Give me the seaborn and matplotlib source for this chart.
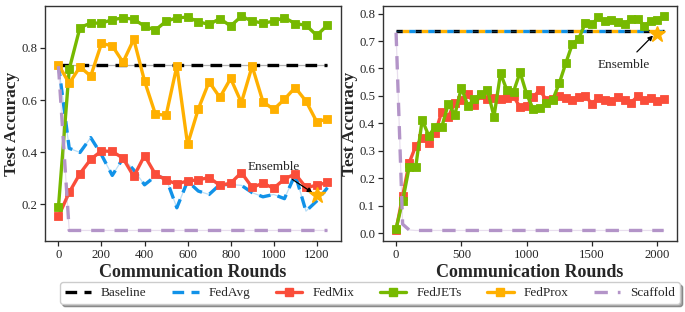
import numpy as np
import pandas as pd
import seaborn as sns
import matplotlib.pyplot as plt
from matplotlib.lines import Line2D

# ---- data ----
rounds_left = np.arange(0, 1251, 50)
rounds_right = np.arange(0, 2051, 50)

baseline_acc = 0.735

left_fedavg = [0.736, 0.415, 0.399, 0.456, 0.39, 0.311, 0.377, 0.332, 0.275, 0.308,
               0.30, 0.187, 0.289, 0.251, 0.238, 0.276, 0.276, 0.273, 0.245, 0.229,
               0.238, 0.222, 0.315, 0.174, 0.213, 0.264]
left_fedmix = [0.154, 0.246, 0.318, 0.373, 0.405, 0.403, 0.377, 0.307, 0.387, 0.316,
               0.294, 0.278, 0.29, 0.294, 0.303, 0.273, 0.281, 0.322, 0.265, 0.281,
               0.262, 0.297, 0.317, 0.265, 0.273, 0.284]
left_fedjets = [0.19, 0.718, 0.878, 0.895, 0.895, 0.908, 0.915, 0.91, 0.883, 0.868,
                0.902, 0.915, 0.918, 0.90, 0.89, 0.912, 0.884, 0.921, 0.903, 0.895,
                0.902, 0.916, 0.893, 0.887, 0.848, 0.887]
left_fedprox = [0.736, 0.664, 0.727, 0.692, 0.817, 0.808, 0.745, 0.833, 0.673, 0.547,
                0.541, 0.73, 0.43, 0.566, 0.67, 0.61, 0.683, 0.59, 0.73, 0.594,
                0.564, 0.603, 0.648, 0.596, 0.517, 0.527]
left_scaffold = [0.73] + [0.1] * 25
left_ensemble = (1200, 0.237)

right_fedavg = [0.735] * 42
right_fedprox = [0.735] * 42
right_fedmix = [0.012, 0.135, 0.256, 0.317, 0.347, 0.329, 0.365, 0.443, 0.425, 0.474,
                0.486, 0.508, 0.468, 0.504, 0.488, 0.492, 0.488, 0.492, 0.498, 0.459,
                0.464, 0.495, 0.522, 0.486, 0.488, 0.498, 0.492, 0.486, 0.495, 0.5,
                0.471, 0.494, 0.486, 0.48, 0.495, 0.486, 0.476, 0.498, 0.486, 0.494,
                0.482, 0.489]
right_fedjets = [0.017, 0.117, 0.24, 0.24, 0.413, 0.355, 0.387, 0.387, 0.471, 0.431,
                 0.53, 0.464, 0.489, 0.507, 0.522, 0.425, 0.582, 0.52, 0.516, 0.586,
                 0.507, 0.452, 0.456, 0.474, 0.486, 0.546, 0.619, 0.689, 0.709, 0.766,
                 0.761, 0.786, 0.773, 0.778, 0.77, 0.761, 0.782, 0.782, 0.754, 0.773,
                 0.776, 0.79]
right_scaffold = [0.73, 0.033, 0.012] + [0.01] * 39
right_ensemble = (2000, 0.727)

methods = ["Baseline", "FedAvg", "FedMix", "FedJETs", "FedProx", "Scaffold"]
colors = {"Baseline": "black", "FedAvg": "#1192e8", "FedMix": "#fa4d3a",
          "FedJETs": "#76b900", "FedProx": "#ffb000", "Scaffold": "#b394c8"}
dashed = {"Baseline": (3.5, 2.2), "FedAvg": (3.5, 2.2), "Scaffold": (4.0, 3.0)}

sns.set_theme(style="ticks")
plt.rcParams["font.family"] = ["Liberation Serif", "DejaVu Serif"]
plt.rcParams["axes.edgecolor"] = "#333333"

fig = plt.figure(figsize=(6.85, 3.12), dpi=100)
ax1 = fig.add_axes([0.0657, 0.227, 0.432, 0.755])
ax2 = fig.add_axes([0.5587, 0.227, 0.4297, 0.755])


def draw(ax, x, series, ensemble, ann_xy, ann_text_xy, offsets=None):
    offsets = offsets or {}
    for name in methods:
        y = series[name]
        c = colors[name]
        if name in dashed:
            # thin light trace under the dashed line
            sns.lineplot(x=x, y=y, ax=ax, color=c, lw=0.9, alpha=0.3)
        if name in offsets:
            # overlapping constant runs: interleave the dashes
            sns.lineplot(x=x, y=y, ax=ax, color=c, lw=2.4,
                         linestyle=(offsets[name], (1.9, 3.8)))
        elif name in dashed:
            sns.lineplot(x=x, y=y, ax=ax, color=c, lw=2.4,
                         linestyle=(0, dashed[name]))
        else:
            sns.lineplot(x=x, y=y, ax=ax, color=c, lw=2.4, marker="s",
                         markersize=6, markeredgewidth=0.6,
                         markeredgecolor=c)
    ax.plot([ensemble[0]], [ensemble[1]], marker="*", color=colors["FedProx"],
            markersize=12, ls="none", zorder=5)
    ax.annotate("Ensemble", xy=ann_xy, xytext=ann_text_xy, ha="center", va="center",
                fontsize=9.5,
                arrowprops=dict(arrowstyle="-|>", color="black", lw=0.9,
                                mutation_scale=7, shrinkA=4, shrinkB=0))
    ax.set_xlabel("Communication Rounds", fontsize=13, fontweight="bold", labelpad=2)
    ax.set_ylabel("Test Accuracy", fontsize=12.5, fontweight="bold", labelpad=1)
    ax.tick_params(labelsize=9.2, length=3.5, width=0.9, pad=2)
    for s in ax.spines.values():
        s.set_linewidth(1.0)


left_series = {"Baseline": [baseline_acc] * len(rounds_left), "FedAvg": left_fedavg,
               "FedMix": left_fedmix, "FedJETs": left_fedjets, "FedProx": left_fedprox,
               "Scaffold": left_scaffold}
draw(ax1, rounds_left, left_series, left_ensemble, (1180, 0.245), (1000, 0.343))
ax1.set_yticks([0.2, 0.4, 0.6, 0.8])
ax1.set_xticks([0, 200, 400, 600, 800, 1000, 1200])

right_series = {"Baseline": [baseline_acc] * len(rounds_right), "FedAvg": right_fedavg,
                "FedMix": right_fedmix, "FedJETs": right_fedjets,
                "FedProx": right_fedprox, "Scaffold": right_scaffold}
draw(ax2, rounds_right, right_series, right_ensemble, (1968, 0.72), (1745, 0.612),
     offsets={"Baseline": 0, "FedAvg": 1.9, "FedProx": 3.8})
ax2.set_yticks([0.0, 0.1, 0.2, 0.3, 0.4, 0.5, 0.6, 0.7, 0.8])
ax2.set_xticks([0, 500, 1000, 1500, 2000])

handles = []
for name in methods:
    if name in dashed:
        h = Line2D([], [], color=colors[name], lw=2.4, linestyle=(0, dashed[name]))
    else:
        h = Line2D([], [], color=colors[name], lw=2.4, marker="s", markersize=6)
    handles.append(h)
fig.legend(handles, methods, loc="lower center", bbox_to_anchor=(0.54, 0.005), ncol=6,
           fontsize=9.5, frameon=True, fancybox=True, shadow=True, handlelength=2.0,
           columnspacing=1.95, borderpad=0.35, handletextpad=0.75, edgecolor="#cccccc")

fig.savefig("out.png", dpi=100)
